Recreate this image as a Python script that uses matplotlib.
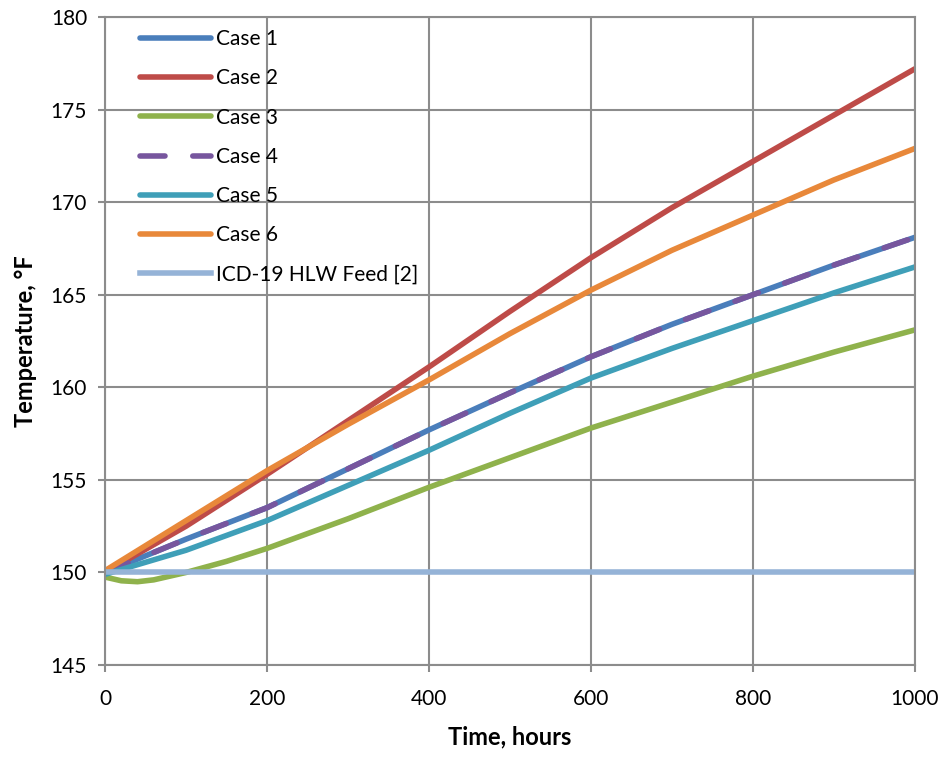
import matplotlib.pyplot as plt

# temperatures (deg F) at selected times (hours)
hours = [0, 100, 200, 300, 400, 500, 600, 700, 800, 900, 1000]
case1 = [150.0, 151.8, 153.5, 155.6, 157.7, 159.7, 161.65, 163.4, 165.0, 166.6, 168.1]
case2 = [150.0, 152.5, 155.3, 158.2, 161.1, 164.1, 167.0, 169.7, 172.2, 174.7, 177.2]
case4 = [150.0, 151.8, 153.5, 155.6, 157.7, 159.7, 161.65, 163.4, 165.0, 166.6, 168.1]
case5 = [149.9, 151.2, 152.8, 154.7, 156.6, 158.6, 160.5, 162.1, 163.6, 165.1, 166.5]
case6 = [150.1, 152.8, 155.5, 158.0, 160.4, 162.9, 165.25, 167.4, 169.3, 171.2, 172.9]

hours3 = [0, 20, 40, 60, 80, 100, 150, 200, 300, 400, 500, 600, 700, 800, 900, 1000]
case3 = [149.75, 149.55, 149.5, 149.6, 149.8, 150.0, 150.6, 151.3, 152.9, 154.6,
         156.2, 157.8, 159.2, 160.6, 161.9, 163.1]

feed_hours = [0, 1000]
feed = [150, 150]

plt.rcParams['font.family'] = ['Lato', 'DejaVu Sans']

fig = plt.figure(figsize=(9.47, 7.57), dpi=100)
ax = fig.add_axes([0.111, 0.1215, 0.855, 0.856])

lw = 4
ax.plot(hours, case1, color='#4A7EBB', lw=lw, label='Case 1', solid_capstyle='round')
ax.plot(hours, case2, color='#BE4B48', lw=lw, label='Case 2', solid_capstyle='round')
ax.plot(hours3, case3, color='#8FB24C', lw=lw, label='Case 3', solid_capstyle='round')
ax.plot(hours, case4, color='#77569E', lw=lw, label='Case 4', dashes=(4.5, 5),
        dash_capstyle='round')
ax.plot(hours, case5, color='#3F9FB8', lw=lw, label='Case 5', solid_capstyle='round')
ax.plot(hours, case6, color='#E8883A', lw=lw, label='Case 6', solid_capstyle='round')
ax.plot(feed_hours, feed, color='#95B3D7', lw=lw, label='ICD-19 HLW Feed [2]')

ax.set_xlim(0, 1000)
ax.set_ylim(145, 180)
ax.set_xticks(range(0, 1001, 200))
ax.set_yticks(range(145, 181, 5))
ax.grid(True, color='#8C8C8C', lw=1.5)
ax.set_axisbelow(True)
for s in ax.spines.values():
    s.set_color('#8C8C8C')
    s.set_linewidth(1.5)
ax.tick_params(colors='#8C8C8C', labelcolor='black', labelsize=15, length=5, width=1.5)
ax.tick_params(axis='x', pad=12)
ax.tick_params(axis='y', pad=8)

ax.set_xlabel('Time, hours', fontsize=17, fontweight='bold', labelpad=12)
ax.set_ylabel('Temperature, °F', fontsize=17, fontweight='bold', labelpad=10)

ax.legend(loc='upper left', bbox_to_anchor=(0.02, 1.01), frameon=False, fontsize=15,
          handlelength=3.4, handletextpad=0.25, labelspacing=0.92)

fig.savefig('out.png', dpi=100, facecolor='white')
